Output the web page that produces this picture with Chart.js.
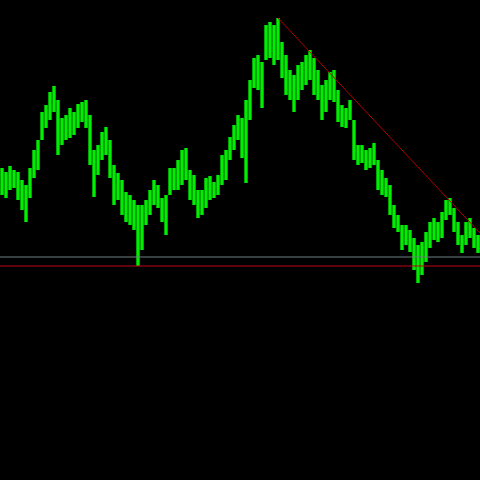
<!DOCTYPE html>
<html>
<head>
<meta charset="utf-8">
<script src="https://cdn.jsdelivr.net/npm/chart.js@4/dist/chart.umd.min.js"></script>
<style>
  html, body { margin: 0; padding: 0; background: #000; }
  #chart { display: block; }
</style>
</head>
<body>
<canvas id="chart" width="480" height="480"></canvas>
<script>
// bar positions (time axis) and high/low of each bar
const times = [];
for (let i = 0; i < 120; i++) times.push(i * 4 + 2);

const highs = [312, 308, 314, 310, 308, 300, 295, 312, 330, 340,
    368, 375, 388, 394, 380, 362, 365, 372, 368, 376,
    378, 380, 365, 330, 335, 348, 353, 340, 315, 307,
    300, 288, 285, 280, 275, 275, 280, 290, 300, 295,
    282, 285, 312, 312, 320, 330, 332, 310, 305, 290,
    290, 302, 304, 298, 305, 325, 330, 343, 355, 365,
    362, 380, 400, 422, 425, 418, 455, 458, 455, 462,
    438, 425, 410, 405, 415, 418, 425, 430, 422, 410,
    395, 400, 408, 410, 390, 375, 372, 380, 360, 335,
    335, 330, 332, 337, 320, 310, 302, 295, 275, 265,
    255, 255, 250, 242, 235, 238, 248, 258, 262, 258,
    268, 280, 282, 272, 258, 245, 258, 262, 252, 245];

const lows = [285, 282, 290, 292, 280, 270, 258, 282, 302, 310,
    340, 352, 360, 368, 325, 335, 340, 342, 345, 352,
    358, 352, 315, 283, 305, 320, 325, 302, 275, 280,
    265, 258, 255, 250, 214, 230, 255, 265, 275, 272,
    258, 245, 285, 290, 290, 295, 300, 280, 275, 262,
    265, 272, 280, 282, 285, 295, 300, 320, 330, 340,
    322, 297, 360, 392, 390, 372, 420, 422, 415, 420,
    402, 385, 380, 368, 380, 390, 395, 400, 385, 380,
    360, 368, 380, 378, 358, 353, 352, 360, 320, 315,
    317, 310, 312, 315, 290, 285, 283, 265, 252, 248,
    230, 235, 228, 210, 197, 205, 218, 232, 240, 238,
    242, 260, 265, 248, 235, 227, 235, 242, 232, 227];

// trend line and horizontal levels
const trendX = [278, 480];
const trendY = [462, 247];
const supportLevel = 214;
const grayLevel = 223;

const bars = times.map((t, i) => ({ x: t, y: [lows[i], highs[i]] }));
const trend = trendX.map((t, i) => ({ x: t, y: trendY[i] }));

const chart1 = document.getElementById("chart");
new Chart(chart1, {
    data: {
        datasets: [{
            type: "line",
            data: [{ x: 0, y: grayLevel }, { x: 480, y: grayLevel }],
            borderColor: "#6f8080",
            borderWidth: 1,
            pointRadius: 0
        }, {
            type: "line",
            data: [{ x: 0, y: supportLevel }, { x: 480, y: supportLevel }],
            borderColor: "#c0001c",
            borderWidth: 1,
            pointRadius: 0
        }, {
            type: "line",
            data: trend,
            borderColor: "#b00000",
            borderWidth: 1,
            pointRadius: 0
        }, {
            type: "bar",
            data: bars,
            backgroundColor: "#00ee00",
            barPercentage: 0.85,
            categoryPercentage: 1
        }]
    },
    options: {
        responsive: false,
        animation: false,
        layout: { padding: 0 },
        plugins: { legend: { display: false }, tooltip: { enabled: false } },
        scales: {
            x: { type: "linear", min: 0, max: 480, offset: false, display: false },
            y: { min: 0, max: 480, display: false }
        }
    }
});
</script>
</body>
</html>
